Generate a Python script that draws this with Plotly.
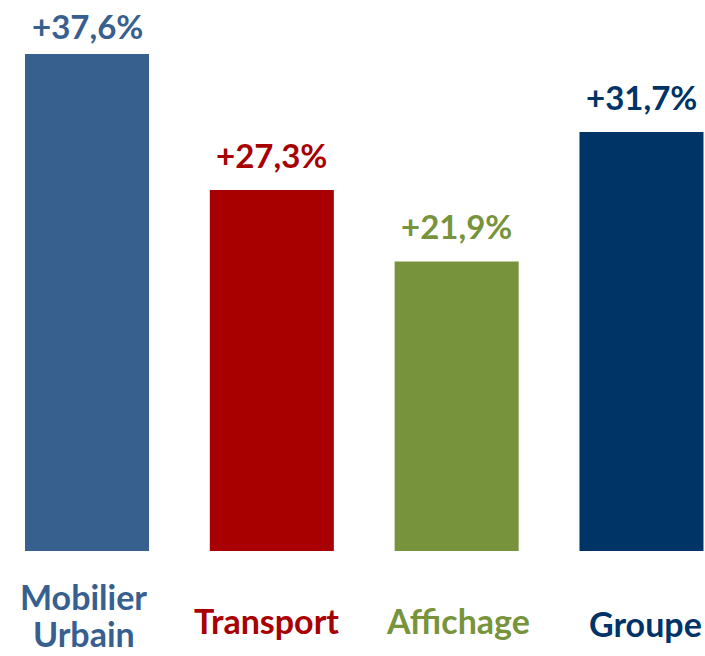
import plotly.graph_objects as go

categories = ["Mobilier", "Transport", "Affichage", "Groupe"]
categories_line2 = ["Urbain", "", "", ""]
values = [37.6, 27.3, 21.9, 31.7]
value_labels = ["+37,6%", "+27,3%", "+21,9%", "+31,7%"]
colors = ["#37608F", "#A80000", "#77933C", "#003366"]

FONT = "Lato"
xs = list(range(len(categories)))

fig = go.Figure(go.Bar(x=xs, y=values, marker_color=colors, marker_line_width=0, width=0.671,
                       hoverinfo="skip"))

val_shift = [6, 13, 13, 13]
for x, v, t, c, s in zip(xs, values, value_labels, colors, val_shift):
    fig.add_annotation(x=x, y=v, text=f"<b>{t}</b>", showarrow=False, yanchor="bottom", yshift=s,
                       font=dict(family=FONT, size=33, color=c))

cat_yshift = [-45, -69, -69, -72]
cat_xshift = [-4, -5, 1, 4]
for x, t, c, s, xs_ in zip(xs, categories, colors, cat_yshift, cat_xshift):
    fig.add_annotation(x=x, y=0, yref="paper", text=f"<b>{t}</b>", showarrow=False, yanchor="middle",
                       yshift=s, xshift=xs_, font=dict(family=FONT, size=34, color=c))
for x, t, c in zip(xs, categories_line2, colors):
    if t:
        fig.add_annotation(x=x, y=0, yref="paper", text=f"<b>{t}</b>", showarrow=False, yanchor="middle",
                           yshift=-82, xshift=-3, borderpad=0, font=dict(family=FONT, size=34, color=c))

fig.update_layout(
    width=705, height=656, margin=dict(l=0, r=0, t=0, b=105),
    paper_bgcolor="white", plot_bgcolor="white", showlegend=False,
    xaxis=dict(range=[-0.4707, 3.3437], visible=False),
    yaxis=dict(range=[0, 41.68], visible=False),
)
fig.write_html("out.html", config={"displayModeBar": False},
               post_script="document.body.style.margin='0';")
